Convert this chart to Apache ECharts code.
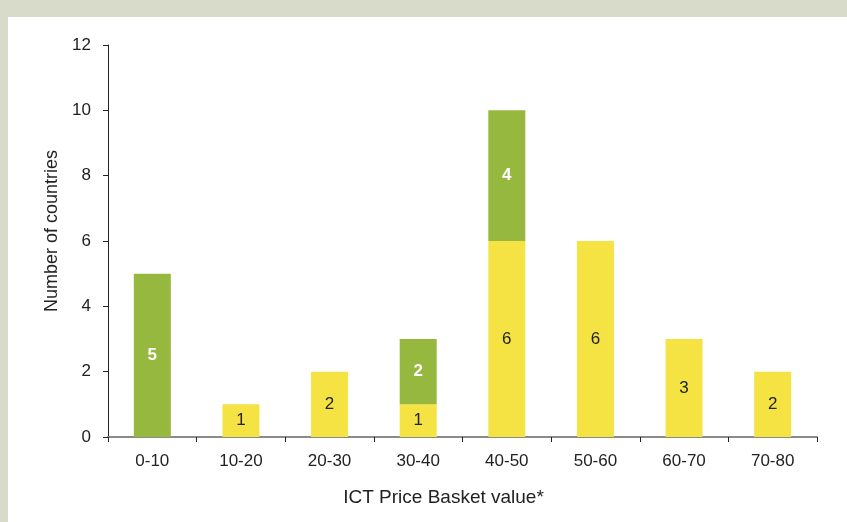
<!DOCTYPE html>
<html>
<head>
<meta charset="utf-8">
<script src="https://cdn.jsdelivr.net/npm/echarts@6/dist/echarts.min.js"></script>
<style>
  html, body { margin: 0; padding: 0; width: 847px; height: 522px; background: #d8dbc9; overflow: hidden; }
  #panel { position: absolute; left: 8px; top: 17px; width: 839px; height: 505px; background: #ffffff; }
  #chart { width: 839px; height: 505px; }
</style>
</head>
<body>
<div id="panel"><div id="chart"></div></div>
<script>
var categories = ['0-10', '10-20', '20-30', '30-40', '40-50', '50-60', '60-70', '70-80'];
var yellowValues = [null, 1, 2, 1, 6, 6, 3, 2];
var greenValues = [5, null, null, 2, 4, null, null, null];
var yTicks = [0, 2, 4, 6, 8, 10, 12];

function price_chart(){
    var chart = echarts.init(document.getElementById('chart'));
    var font = 'Liberation Sans, Arial, sans-serif';

    var option = {
        animation: false,
        textStyle: { fontFamily: font },
        grid: { left: 100, right: 30, top: 28, bottom: 85 },
        xAxis: [{
            type: 'category',
            data: categories,
            name: 'ICT Price Basket value*',
            nameLocation: 'middle',
            nameGap: 51,
            nameTextStyle: { fontSize: 19, color: '#222', fontFamily: font, padding: [0, 38, 0, 0] },
            axisLine: { lineStyle: { color: '#8a8a8a', width: 2 } },
            axisTick: { show: true, length: 5, inside: false, lineStyle: { color: '#222' } },
            axisLabel: { fontSize: 17, color: '#222', margin: 16, fontFamily: font }
        }],
        yAxis: [{
            type: 'value',
            min: yTicks[0],
            max: yTicks[yTicks.length - 1],
            interval: 2,
            name: 'Number of countries',
            nameLocation: 'middle',
            nameGap: 44,
            nameTextStyle: { fontSize: 18, color: '#222', fontFamily: font, padding: [0, 0, 0, 20] },
            axisLine: { show: true, lineStyle: { color: '#222', width: 1 } },
            axisTick: { show: true, length: 5, lineStyle: { color: '#222' } },
            axisLabel: { fontSize: 17, color: '#222', margin: 17, fontFamily: font },
            splitLine: { show: false }
        }],
        series: [{
            name: 'yellow',
            type: 'bar',
            stack: 'total',
            barWidth: 37,
            data: yellowValues,
            itemStyle: { color: '#f5e243' },
            label: { show: true, position: 'inside', fontSize: 17, color: '#222', fontFamily: font }
        }, {
            name: 'green',
            type: 'bar',
            stack: 'total',
            barWidth: 37,
            data: greenValues,
            itemStyle: { color: '#96b83e' },
            label: { show: true, position: 'inside', fontSize: 17, fontWeight: 'bold', color: '#ffffff', fontFamily: font }
        }]
    };
    chart.setOption(option);
}

price_chart();
</script>
</body>
</html>
